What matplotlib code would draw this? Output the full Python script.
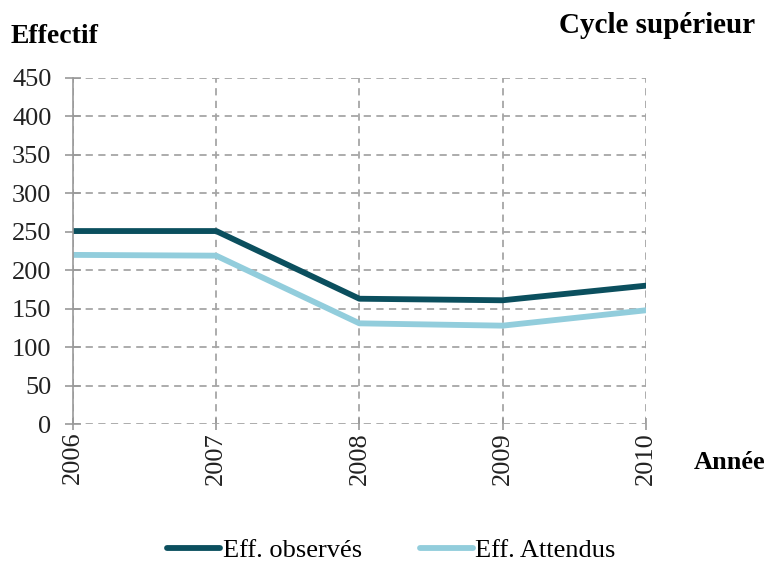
import matplotlib
matplotlib.use('Agg')
import matplotlib.pyplot as plt

# data
annees = ['2006', '2007', '2008', '2009', '2010']
eff_observes = [251, 251, 163, 161, 180]
eff_attendus = [220, 219, 131, 128, 148]

plt.rcParams['font.family'] = ['Liberation Serif', 'DejaVu Serif']

fig = plt.figure(figsize=(7.68, 5.61), dpi=100)
ax = fig.add_axes([0.095, 0.244, 0.746, 0.617])

x = list(range(len(annees)))
ax.plot(x, eff_observes, color='#0B4F5E', lw=4.2, label='Eff. observés', solid_capstyle='round')
ax.plot(x, eff_attendus, color='#92CDDC', lw=4.2, label='Eff. Attendus', solid_capstyle='round')

ax.set_xlim(0, len(annees) - 1)
ax.set_ylim(0, 450)
ax.set_yticks(range(0, 451, 50))
ax.set_xticks(x)
ax.set_xticklabels(annees, rotation=90)
ax.tick_params(labelsize=19, colors='#222222', width=1.2, color='#999999', direction='inout')
ax.tick_params(axis='y', length=11, pad=10)
ax.tick_params(axis='x', length=9, pad=1)
ax.grid(True, color='#a6a6a6', linestyle=(0, (4, 3)), lw=1.3)
for side in ['top', 'right', 'bottom']:
    ax.spines[side].set_visible(False)
ax.spines['left'].set_color('#999999')
ax.spines['left'].set_linewidth(1.2)

fig.text(0.014, 0.935, 'Effectif', fontsize=20, fontweight='bold', ha='left', va='center')
fig.text(0.983, 0.955, 'Cycle supérieur', fontsize=21, fontweight='bold', ha='right', va='center')
fig.text(0.997, 0.175, 'Année', fontsize=19, fontweight='bold', ha='right', va='center')

fig.legend(loc='lower center', bbox_to_anchor=(0.51, -0.045), ncol=2, frameon=False,
           fontsize=19, handlelength=2.0, handletextpad=0.1, columnspacing=2.2)

fig.savefig('out.png', dpi=100)
